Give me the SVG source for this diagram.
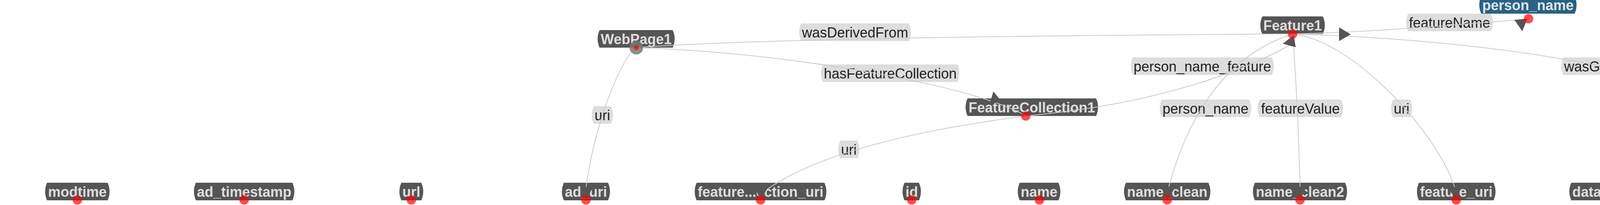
<svg xmlns="http://www.w3.org/2000/svg" width="5772" height="525" viewBox="0 0 5772 525">
<style>
.node path{fill:#555555}
.node.blue path{fill:#2b6181}
.node text{font-family:"Liberation Sans",Arial,Helvetica,sans-serif;font-weight:bold;font-size:36px;fill:#dddddd;text-anchor:middle}
.node.blue text{fill:#dbe4ec}
.elabel path{fill:#dddddd}
.elabel text{font-family:"Liberation Sans",Arial,Helvetica,sans-serif;font-size:36px;fill:#222222;text-anchor:middle}
.link{fill:none;stroke:#cccccc;stroke-width:2}
.arrow{fill:#555555}
.dot{fill:#ff0000;opacity:0.7}
.hub{fill:#777777;opacity:0.85}
</style>
<rect width="5772" height="525" fill="#ffffff"/>

<g id="nodes">
  <g id="node-modtime" class="node"><path d="M120.5,468H275.5A53,53 0 0 1 275.5,513H120.5A53,53 0 0 1 120.5,468Z"/><text x="198" y="503.5">modtime</text></g>
  <g id="node-ad_timestamp" class="node"><path d="M501.5,468H748.5A53,53 0 0 1 748.5,513H501.5A53,53 0 0 1 501.5,468Z"/><text x="625" y="503.5">ad_timestamp</text></g>
  <g id="node-url" class="node"><path d="M1027.5,468H1078.5A53,53 0 0 1 1078.5,513H1027.5A53,53 0 0 1 1027.5,468Z"/><text x="1053" y="503.5">url</text></g>
  <g id="node-ad_uri" class="node"><path d="M1443.5,468H1556.5A53,53 0 0 1 1556.5,513H1443.5A53,53 0 0 1 1443.5,468Z"/><text x="1500" y="503.5">ad_uri</text></g>
  <g id="node-featurecollection_uri" class="node"><path d="M1783.5,468H2110.5A53,53 0 0 1 2110.5,513H1783.5A53,53 0 0 1 1783.5,468Z"/><text x="1947" y="503.5">feature...ection_uri</text></g>
  <g id="node-id" class="node"><path d="M2315.5,468H2352.5A53,53 0 0 1 2352.5,513H2315.5A53,53 0 0 1 2315.5,468Z"/><text x="2334" y="503.5">id</text></g>
  <g id="node-name" class="node"><path d="M2610.5,468H2709.5A53,53 0 0 1 2709.5,513H2610.5A53,53 0 0 1 2610.5,468Z"/><text x="2660" y="503.5">name</text></g>
  <g id="node-name_clean" class="node"><path d="M2882.5,468H3093.5A53,53 0 0 1 3093.5,513H2882.5A53,53 0 0 1 2882.5,468Z"/><text x="2988" y="503.5">name_clean</text></g>
  <g id="node-name_clean2" class="node"><path d="M3212.5,468H3443.5A53,53 0 0 1 3443.5,513H3212.5A53,53 0 0 1 3212.5,468Z"/><text x="3328" y="503.5">name_clean2</text></g>
  <g id="node-feature_uri" class="node"><path d="M3632.5,468H3823.5A53,53 0 0 1 3823.5,513H3632.5A53,53 0 0 1 3632.5,468Z"/><text x="3728" y="503.5">feature_uri</text></g>
  <g id="node-database_id" class="node"><path d="M4022.5,468H4235.5A53,53 0 0 1 4235.5,513H4022.5A53,53 0 0 1 4022.5,468Z"/><text x="4129" y="503.5">database_id</text></g>
  <g id="node-stanford_gentime" class="node"><path d="M4376.5,468H4683.5A53,53 0 0 1 4683.5,513H4376.5A53,53 0 0 1 4376.5,468Z"/><text x="4530" y="503.5">stanford_gentime</text></g>
  <g id="node-stanford_gentime_iso" class="node"><path d="M4787.5,468H5166.5A53,53 0 0 1 5166.5,513H4787.5A53,53 0 0 1 4787.5,468Z"/><text x="4977" y="503.5">stanford_gentime_iso</text></g>
  <g id="node-WebPage1" class="node"><path d="M1535,77H1722A53,53 0 0 1 1722,122H1535A53,53 0 0 1 1535,77Z"/><text x="1628.5" y="112.5">WebPage1</text></g>
  <g id="node-Feature1" class="node"><path d="M3231.5,42H3386.5A53,53 0 0 1 3386.5,87H3231.5A53,53 0 0 1 3231.5,42Z"/><text x="3309" y="77.5">Feature1</text></g>
  <g id="node-FeatureCollection1" class="node"><path d="M2477,252H2806A53,53 0 0 1 2806,297H2477A53,53 0 0 1 2477,252Z"/><text x="2641.5" y="287.5">FeatureCollection1</text></g>
  <g id="node-Activity1" class="node"><path d="M4482.5,253H4637.5A53,53 0 0 1 4637.5,298H4482.5A53,53 0 0 1 4482.5,253Z"/><text x="4560" y="288.5">Activity1</text></g>
  <g id="node-person_name" class="node blue"><path d="M3792,-10H4031A53,53 0 0 1 4031,35H3792A53,53 0 0 1 3792,-10Z"/><text x="3911.5" y="25.5">person_name</text></g>
  <g id="node-version1" class="node blue"><path d="M4966.5,3H5269.5A53,53 0 0 1 5269.5,48H4966.5A53,53 0 0 1 4966.5,3Z"/><text x="5118" y="38.5">http://.../version/1</text></g>
</g>

<g id="edge-labels">
  <g class="elabel"><path d="M2051,60H2327A53,53 0 0 1 2327,105H2051A53,53 0 0 1 2051,60Z"/><text x="2189" y="95.5">wasDerivedFrom</text></g>
  <g class="elabel"><path d="M2107,165H2451A53,53 0 0 1 2451,210H2107A53,53 0 0 1 2107,165Z"/><text x="2279" y="200.5">hasFeatureCollection</text></g>
  <g class="elabel"><path d="M1520,272H1564A53,53 0 0 1 1564,317H1520A53,53 0 0 1 1520,272Z"/><text x="1542" y="307.5">uri</text></g>
  <g class="elabel"><path d="M2151,360H2195A53,53 0 0 1 2195,405H2151A53,53 0 0 1 2151,360Z"/><text x="2173" y="395.5">uri</text></g>
  <g class="elabel"><path d="M2900,147H3256A53,53 0 0 1 3256,192H2900A53,53 0 0 1 2900,147Z"/><text x="3078" y="182.5">person_name_feature</text></g>
  <g class="elabel"><path d="M2974,255H3198A53,53 0 0 1 3198,300H2974A53,53 0 0 1 2974,255Z"/><text x="3086" y="290.5">person_name</text></g>
  <g class="elabel"><path d="M3225,255H3433A53,53 0 0 1 3433,300H3225A53,53 0 0 1 3225,255Z"/><text x="3329" y="290.5">featureValue</text></g>
  <g class="elabel"><path d="M3566,255H3610A53,53 0 0 1 3610,300H3566A53,53 0 0 1 3566,255Z"/><text x="3588" y="290.5">uri</text></g>
  <g class="elabel"><path d="M3605,35H3817A53,53 0 0 1 3817,80H3605A53,53 0 0 1 3605,35Z"/><text x="3711" y="70.5">featureName</text></g>
  <g class="elabel"><path d="M4002,147H4282A53,53 0 0 1 4282,192H4002A53,53 0 0 1 4002,147Z"/><text x="4142" y="182.5">wasGeneratedBy</text></g>
  <g class="elabel"><path d="M4801,128H5065A53,53 0 0 1 5065,173H4801A53,53 0 0 1 4801,128Z"/><text x="4933" y="163.5">wasAttributedTo</text></g>
  <g class="elabel"><path d="M4182,360H4364A53,53 0 0 1 4364,405H4182A53,53 0 0 1 4182,360Z"/><text x="4273" y="395.5">databaseId</text></g>
  <g class="elabel"><path d="M4729,360H4947A53,53 0 0 1 4947,405H4729A53,53 0 0 1 4729,360Z"/><text x="4838" y="395.5">endedAtTime</text></g>
</g>

<g id="connectors">
  <path class="link" d="M1629,122 Q1994,94 3309,87"/>
  <path class="link" d="M1629,122 C2029,134 2506,223 2626,297"/>
  <path class="link" d="M1629,122 C1589,147 1518.6,329 1500.6,479"/>
  <path class="link" d="M3309,87 Q3529,82.6 3913,48"/>
  <path class="link" d="M3309,87 Q4065,109.5 4560,298"/>
  <path class="link" d="M2626,297 Q3037,259 3300,117"/>
  <path class="link" d="M3309,87 Q3081,160 2992,478"/>
  <path class="link" d="M3309,87 Q3322,250 3328,478"/>
  <path class="link" d="M3309,87 C3459,102 3673,329 3724,479"/>
  <path class="link" d="M2626,297 Q2141,360 1962,486"/>
  <path class="link" d="M4560,298 C4410,311 4169,412 4141,482"/>
  <path class="link" d="M4560,298 C4710,311 4937,414 4965,484"/>
  <path class="link" d="M4560,298 C4760,264 5040,150 5110,77"/>
  <polygon class="arrow" points="3428,70 3428,105 3458,88"/>
  <polygon class="arrow" points="3877,51 3910,48 3897,80"/>
  <polygon class="arrow" points="2543,234 2564,260.5 2534,266"/>
  <polygon class="arrow" points="4478,233 4497,262 4467,266"/>
  <polygon class="arrow" points="3312,90 3284,112 3317,121"/>
  <polygon class="arrow" points="5118,50 5096,74 5130,81"/>
  <polygon class="arrow" points="1500,512 1484,480 1518,480"/>
  <polygon class="arrow" points="1947,512 1934,484 1966,480"/>
  <polygon class="arrow" points="2988,512 2975,476 3009,480"/>
  <polygon class="arrow" points="3328,512 3311,478 3345,478"/>
  <polygon class="arrow" points="3728,512 3707,481 3741,477"/>
  <polygon class="arrow" points="4129,512 4125,476 4157,488"/>
  <polygon class="arrow" points="4977,512 4981,477 4949,491"/>
</g>

<g id="anchors">
  <circle class="hub" cx="1629" cy="122" r="17.5"/>
  <circle class="dot" cx="1629" cy="122" r="6"/>
  <circle class="dot" cx="198" cy="512" r="12"/>
  <circle class="dot" cx="625" cy="512" r="12"/>
  <circle class="dot" cx="1053" cy="512" r="12"/>
  <circle class="dot" cx="1500" cy="512" r="12"/>
  <circle class="dot" cx="1947" cy="512" r="12"/>
  <circle class="dot" cx="2334" cy="512" r="12"/>
  <circle class="dot" cx="2661" cy="512" r="12"/>
  <circle class="dot" cx="2988" cy="512" r="12"/>
  <circle class="dot" cx="3328" cy="512" r="12"/>
  <circle class="dot" cx="3728" cy="512" r="12"/>
  <circle class="dot" cx="4129" cy="512" r="12"/>
  <circle class="dot" cx="4530" cy="512" r="12"/>
  <circle class="dot" cx="4977" cy="512" r="12"/>
  <circle class="dot" cx="3309" cy="87" r="12"/>
  <circle class="dot" cx="2626" cy="297" r="12"/>
  <circle class="dot" cx="4560" cy="298" r="12"/>
  <circle class="dot" cx="3913" cy="48" r="12"/>
  <circle class="dot" cx="5119" cy="48" r="12"/>
</g>
</svg>
